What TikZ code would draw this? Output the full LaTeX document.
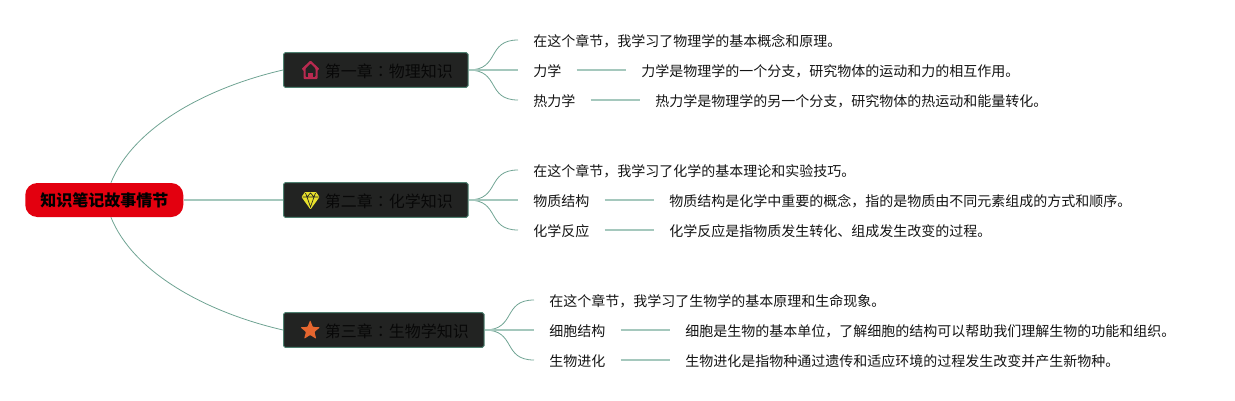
\documentclass[tikz,border=0pt]{standalone}
\usepackage{fontspec}
\setmainfont{Noto Sans CJK SC}
\newfontfamily\colonfont{Noto Sans CJK TC}
\usetikzlibrary{shapes.geometric}
\definecolor{linkc}{HTML}{6FA393}
\definecolor{thickc}{HTML}{A5C8BD}
\definecolor{boxc}{HTML}{222322}
\definecolor{boxb}{HTML}{4E8070}
\definecolor{textc}{HTML}{080808}
\definecolor{leafc}{HTML}{141414}
\definecolor{rootred}{HTML}{E3000F}
\definecolor{houseR}{HTML}{B92A50}
\definecolor{gemY}{HTML}{E8E02C}
\definecolor{starO}{HTML}{E5662F}
\tikzset{
  rootnode/.style={fill=rootred,rounded corners=9pt,font=\fontsize{12}{14}\selectfont\bfseries,text=black,minimum width=118.5pt,minimum height=25.5pt,inner sep=0pt,anchor=west},
  chapter/.style={fill=boxc,draw=boxb,line width=.75pt,rounded corners=1.2pt,font=\fontsize{12}{14}\selectfont,text=textc,minimum height=26pt,inner ysep=0pt,inner xsep=11.3pt,anchor=west,text height=11.2pt,text depth=.4pt},
  leaf/.style={font=\fontsize{10.5}{12}\selectfont,text=leafc,inner ysep=0pt,inner xsep=11.25pt,anchor=west,text height=10.8pt,text depth=.8pt},
  link/.style={draw=linkc,line width=.6pt},
  thick link/.style={draw=thickc,line width=1.1pt},
  detail link/.style={draw=thickc,line width=.8pt}
}
\begin{document}
\begin{tikzpicture}[x=.75pt,y=-.75pt]
\useasboundingbox (0,0) rectangle (1235,400);
% nodes
\node[rootnode] (root) at (25,200) {知识笔记故事情节};
\node[chapter] (c1) at (283,70) {\hspace*{19.8pt}第一章{\colonfont ：}物理知识};
\node[chapter] (c2) at (283,200) {\hspace*{19.8pt}第二章{\colonfont ：}化学知识};
\node[chapter] (c3) at (283,330) {\hspace*{19.8pt}第三章{\colonfont ：}生物学知识};
% chapter 1
\node[leaf] (a0) at (518,40) {在这个章节，我学习了物理学的基本概念和原理。};
\node[leaf] (a1) at (518,70) {力学};
\node[leaf] (a1d) at (626,70) {力学是物理学的一个分支，研究物体的运动和力的相互作用。};
\node[leaf] (a2) at (518,100) {热力学};
\node[leaf] (a2d) at (640,100) {热力学是物理学的另一个分支，研究物体的热运动和能量转化。};
% chapter 2
\node[leaf] (b0) at (518,170) {在这个章节，我学习了化学的基本理论和实验技巧。};
\node[leaf] (b1) at (518,200) {物质结构};
\node[leaf] (b1d) at (654,200) {物质结构是化学中重要的概念，指的是物质由不同元素组成的方式和顺序。};
\node[leaf] (b2) at (518,230) {化学反应};
\node[leaf] (b2d) at (654,230) {化学反应是指物质发生转化、组成发生改变的过程。};
% chapter 3
\node[leaf] (d0) at (534,300) {在这个章节，我学习了生物学的基本原理和生命现象。};
\node[leaf] (d1) at (534,330) {细胞结构};
\node[leaf] (d1d) at (670,330) {细胞是生物的基本单位，了解细胞的结构可以帮助我们理解生物的功能和组织。};
\node[leaf] (d2) at (534,360) {生物进化};
\node[leaf] (d2d) at (670,360) {生物进化是指物种通过遗传和适应环境的过程发生改变并产生新物种。};
% root links
\coordinate (rt) at ([xshift=5pt]root.north);
\coordinate (rb) at ([xshift=5pt]root.south);
\draw[link] (rt) .. controls (133,128) and (205,88) .. (c1.west);
\draw[link] (rb) .. controls (133,272) and (205,312) .. (c3.west);
\draw[thick link] (root.east) -- (c2.west);
% branch links
\foreach \c/\t/\m/\b in {c1/a0/a1/a2,c2/b0/b1/b2,c3/d0/d1/d2}{
  \draw[link] (\c.east) .. controls +(24pt,0pt) and ([xshift=-24pt]\t.west) .. (\t.west);
  \draw[link] (\c.east) .. controls +(24pt,0pt) and ([xshift=-24pt]\b.west) .. (\b.west);
  \draw[thick link] (\c.east) -- (\m.west);
}
\foreach \p/\q in {a1/a1d,a2/a2d,b1/b1d,b2/b2d,d1/d1d,d2/d2d}{
  \draw[detail link] (\p.east) -- (\q.west);
}
% house icon
\fill[rounded corners=.6pt,even odd rule,fill=houseR]
  (310.5,60.5) -- (319.5,69) -- (317.5,70) -- (317.5,79) -- (303.5,79) -- (303.5,70) -- (301.5,69) -- cycle
  (310.5,63.5) -- (305.5,68.5) -- (305.5,77) -- (315.5,77) -- (315.5,68.5) -- cycle;
\fill[houseR] (308,72.5) rectangle (313,78);
% diamond icon
\fill[gemY,rounded corners=.5pt] (305,192) -- (316,192) -- (319.5,197) -- (310.5,209.5) -- (301.5,197) -- cycle;
\draw[boxc,line width=.5pt] (302.5,197) -- (318.5,197) (305.5,193) -- (307,197) -- (310.5,207) -- (314,197) -- (315.5,193) (307,197) -- (310.5,193) -- (314,197);
% star icon
\node[star,star points=5,star point ratio=2.3,fill=starO,inner sep=0pt,minimum size=15.5pt,rounded corners=.6pt] (starIcon) at (310.2,330.5) {};
\end{tikzpicture}
\end{document}
